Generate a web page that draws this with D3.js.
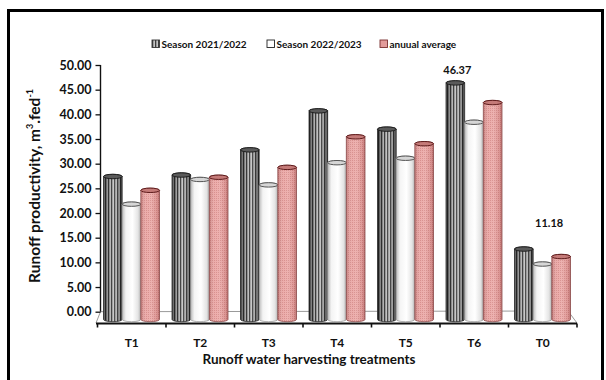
<!DOCTYPE html>
<html>
<head>
<meta charset="utf-8">
<script src="https://cdn.jsdelivr.net/npm/d3@7/dist/d3.min.js"></script>
<style>
  html, body { margin: 0; padding: 0; background: #fff; }
  svg { display: block; }
  text { font-family: Lato, "Open Sans", "DejaVu Sans", sans-serif; font-weight: 700; fill: #111; }
</style>
</head>
<body>
<svg id="chart" width="606" height="380"></svg>
<script>
// Runoff productivity per treatment (m3/fed) for two seasons and their mean
const categories = ["T1", "T2", "T3", "T4", "T5", "T6", "T0"];
const season2122 = [27.4, 27.7, 32.8, 40.7, 37.0, 46.37, 12.7];
const season2223 = [21.8, 26.8, 25.7, 30.2, 31.1, 38.4, 9.66];
const annualAverage = [24.6, 27.25, 29.25, 35.45, 34.05, 42.39, 11.18];
const seriesNames = ["Season 2021/2022", "Season 2022/2023", "anuual average"];
const yTicks = [0, 5, 10, 15, 20, 25, 30, 35, 40, 45, 50];
// values printed above their cylinders: [series index, category]
const labelledBars = [[0, "T6"], [2, "T0"]];

const seriesValues = [season2122, season2223, annualAverage];

const svg = d3.select("#chart");
const defs = svg.append("defs");

// ---- fills -------------------------------------------------------------
// vertical stripes for the first season
const stripe = defs.append("pattern").attr("id", "stripes")
  .attr("patternUnits", "userSpaceOnUse").attr("width", 3).attr("height", 6);
stripe.append("rect").attr("width", 3).attr("height", 6).attr("fill", "#c4c4c4");
stripe.append("rect").attr("x", 0).attr("width", 1.3).attr("height", 6).attr("fill", "#3c3c3c");

// fine dot texture for the average
const dots = defs.append("pattern").attr("id", "dots")
  .attr("patternUnits", "userSpaceOnUse").attr("width", 2).attr("height", 2);
dots.append("rect").attr("width", 2).attr("height", 2).attr("fill", "#eba8a6");
dots.append("rect").attr("width", 1).attr("height", 1).attr("fill", "#d68a88");

// cylinder shading overlays
function hGrad(id, stops) {
  const g = defs.append("linearGradient").attr("id", id)
    .attr("x1", 0).attr("x2", 1).attr("y1", 0).attr("y2", 0);
  stops.forEach(([o, c, a]) => g.append("stop").attr("offset", o)
    .attr("stop-color", c).attr("stop-opacity", a));
}
hGrad("shadeDark", [[0, "#000", 0.55], [0.3, "#000", 0.1], [0.55, "#fff", 0.1], [0.85, "#000", 0.25], [1, "#000", 0.6]]);
hGrad("shadeWhite", [[0, "#bcbcbc", 1], [0.2, "#f4f4f4", 1], [0.55, "#ffffff", 1], [0.85, "#e4e4e4", 1], [1, "#b0b0b0", 1]]);
hGrad("shadePink", [[0, "#7a2a2a", 0.35], [0.3, "#fff", 0.05], [0.55, "#fff", 0.12], [0.85, "#7a2a2a", 0.12], [1, "#7a2a2a", 0.4]]);

const bodyFill = ["url(#stripes)", "url(#shadeWhite)", "url(#dots)"];
const bodyShade = ["url(#shadeDark)", null, "url(#shadePink)"];
const topFill = ["#5a5a5a", "#d6d6d6", "#c47a78"];
const topStroke = ["#1e1e1e", "#555", "#5e1c1c"];
const edgeStroke = ["#2a2a2a", "#9a9a9a", "#8a4a4a"];

// ---- scales ------------------------------------------------------------
const y = d3.scaleLinear().domain([0, 50]).range([311.7, 65]);
const x = d3.scaleBand().domain(categories).range([97.5, 577]);
const xs = d3.scaleBand().domain([0, 1, 2]).range([6, 62]);

const floorY = 319.5;   // centre of each cylinder's base ellipse
const ry = 2.2;

// ---- outer frame -------------------------------------------------------
svg.append("rect").attr("x", 8.5).attr("y", 10.5).attr("width", 594).attr("height", 380)
  .attr("fill", "none").attr("stroke", "#000").attr("stroke-width", 3);

// ---- floor and axes ----------------------------------------------------
const floor = svg.append("g");
floor.append("path")
  .attr("d", `M100.5,311.7 L568,311 L577,323 M100.5,311.7 L96,323`)
  .attr("fill", "none").attr("stroke", "#9a9a9a").attr("stroke-width", 1);

const yAxis = d3.axisLeft(y).tickValues(yTicks).tickFormat(d3.format(".2f"))
  .tickSize(5).tickPadding(4);
const gy = svg.append("g").attr("transform", "translate(100.5,0)").call(yAxis);
gy.select(".domain").attr("stroke", "#111").attr("stroke-width", 1.4).attr("d", "M-0,65V311.7");
gy.selectAll(".tick line").attr("stroke", "#111").attr("stroke-width", 1.3);
gy.selectAll(".tick text").attr("font-size", 12.5).attr("fill", "#111")
  .style("font-family", "Lato, sans-serif").style("font-weight", 700);

const xAxis = d3.axisBottom(x).tickSize(0).tickPadding(15);
const gx = svg.append("g").attr("transform", "translate(0,323.5)").call(xAxis);
gx.select(".domain").attr("stroke", "#111").attr("stroke-width", 2).attr("d", "M96,0H577");
gx.selectAll(".tick text").attr("font-size", 12).attr("fill", "#111")
  .style("font-family", "Lato, sans-serif").style("font-weight", 700);
// boundary ticks between treatments
gx.selectAll(".sep").data(categories.concat(["end"])).join("line").attr("class", "sep")
  .attr("x1", (d, i) => x.range()[0] + i * x.bandwidth())
  .attr("x2", (d, i) => x.range()[0] + i * x.bandwidth())
  .attr("y1", 0).attr("y2", 4).attr("stroke", "#111").attr("stroke-width", 1.6);

// ---- cylinders ---------------------------------------------------------
function cylinderPath(x0, w, yt, yb) {
  const r = w / 2;
  return `M${x0},${yt} L${x0},${yb} A${r},${ry} 0 0 0 ${x0 + w},${yb} L${x0 + w},${yt} A${r},${ry} 0 0 0 ${x0},${yt} Z`;
}

const bars = [];
categories.forEach((c, ci) => {
  seriesValues.forEach((vals, si) => {
    bars.push({ cat: c, s: si, v: vals[ci] });
  });
});

const gb = svg.append("g");
const bw = xs.bandwidth();
const cyl = gb.selectAll("g.cyl").data(bars).join("g").attr("class", "cyl");
cyl.append("path")
  .attr("d", d => cylinderPath(x(d.cat) + xs(d.s), bw, y(d.v), floorY))
  .attr("fill", d => bodyFill[d.s]);
cyl.filter(d => bodyShade[d.s]).append("path")
  .attr("d", d => cylinderPath(x(d.cat) + xs(d.s), bw, y(d.v), floorY))
  .attr("fill", d => bodyShade[d.s]);
cyl.append("path")
  .attr("d", d => cylinderPath(x(d.cat) + xs(d.s), bw, y(d.v), floorY))
  .attr("fill", "none").attr("stroke", d => edgeStroke[d.s]).attr("stroke-width", 0.8);
cyl.append("ellipse")
  .attr("cx", d => x(d.cat) + xs(d.s) + bw / 2).attr("cy", d => y(d.v))
  .attr("rx", bw / 2).attr("ry", ry)
  .attr("fill", d => topFill[d.s]).attr("stroke", d => topStroke[d.s]).attr("stroke-width", 1);

// ---- value labels ------------------------------------------------------
const labelOffset = { "0T6": [2, -9], "2T0": [-12, -30] };
svg.append("g").selectAll("text").data(labelledBars).join("text")
  .attr("x", ([s, c]) => x(c) + xs(s) + bw / 2 + labelOffset[s + c][0])
  .attr("y", ([s, c]) => y(seriesValues[s][categories.indexOf(c)]) + labelOffset[s + c][1])
  .attr("text-anchor", "middle").attr("font-size", 11)
  .text(([s, c]) => d3.format(".2f")(seriesValues[s][categories.indexOf(c)]));

// ---- legend ------------------------------------------------------------
const legendX = [152, 267, 380];
const legendFill = ["url(#stripes)", "#ffffff", "#e39c9a"];
const legendStroke = ["#333", "#222", "#7a3030"];
const lg = svg.append("g").selectAll("g").data(seriesNames).join("g")
  .attr("transform", (d, i) => `translate(${legendX[i]},40)`);
lg.append("rect").attr("width", 7.5).attr("height", 7.5)
  .attr("fill", (d, i) => legendFill[i]).attr("stroke", (d, i) => legendStroke[i]).attr("stroke-width", 0.9);
lg.append("text").attr("x", 9.5).attr("y", 7.7).attr("font-size", 10).text(d => d);

// ---- axis titles -------------------------------------------------------
svg.append("text").attr("x", 309).attr("y", 364).attr("text-anchor", "middle")
  .attr("font-size", 13.5).text("Runoff water harvesting treatments");

const yt = svg.append("text").attr("transform", "translate(40,186) rotate(-90)")
  .attr("text-anchor", "middle").attr("font-size", 15.5);
yt.append("tspan").text("Runoff productivity, m");
yt.append("tspan").attr("font-size", 9).attr("dy", -7).text("3");
yt.append("tspan").attr("dy", 7).text(".fed");
yt.append("tspan").attr("font-size", 9).attr("dy", -7).text("-1");
</script>
</body>
</html>
